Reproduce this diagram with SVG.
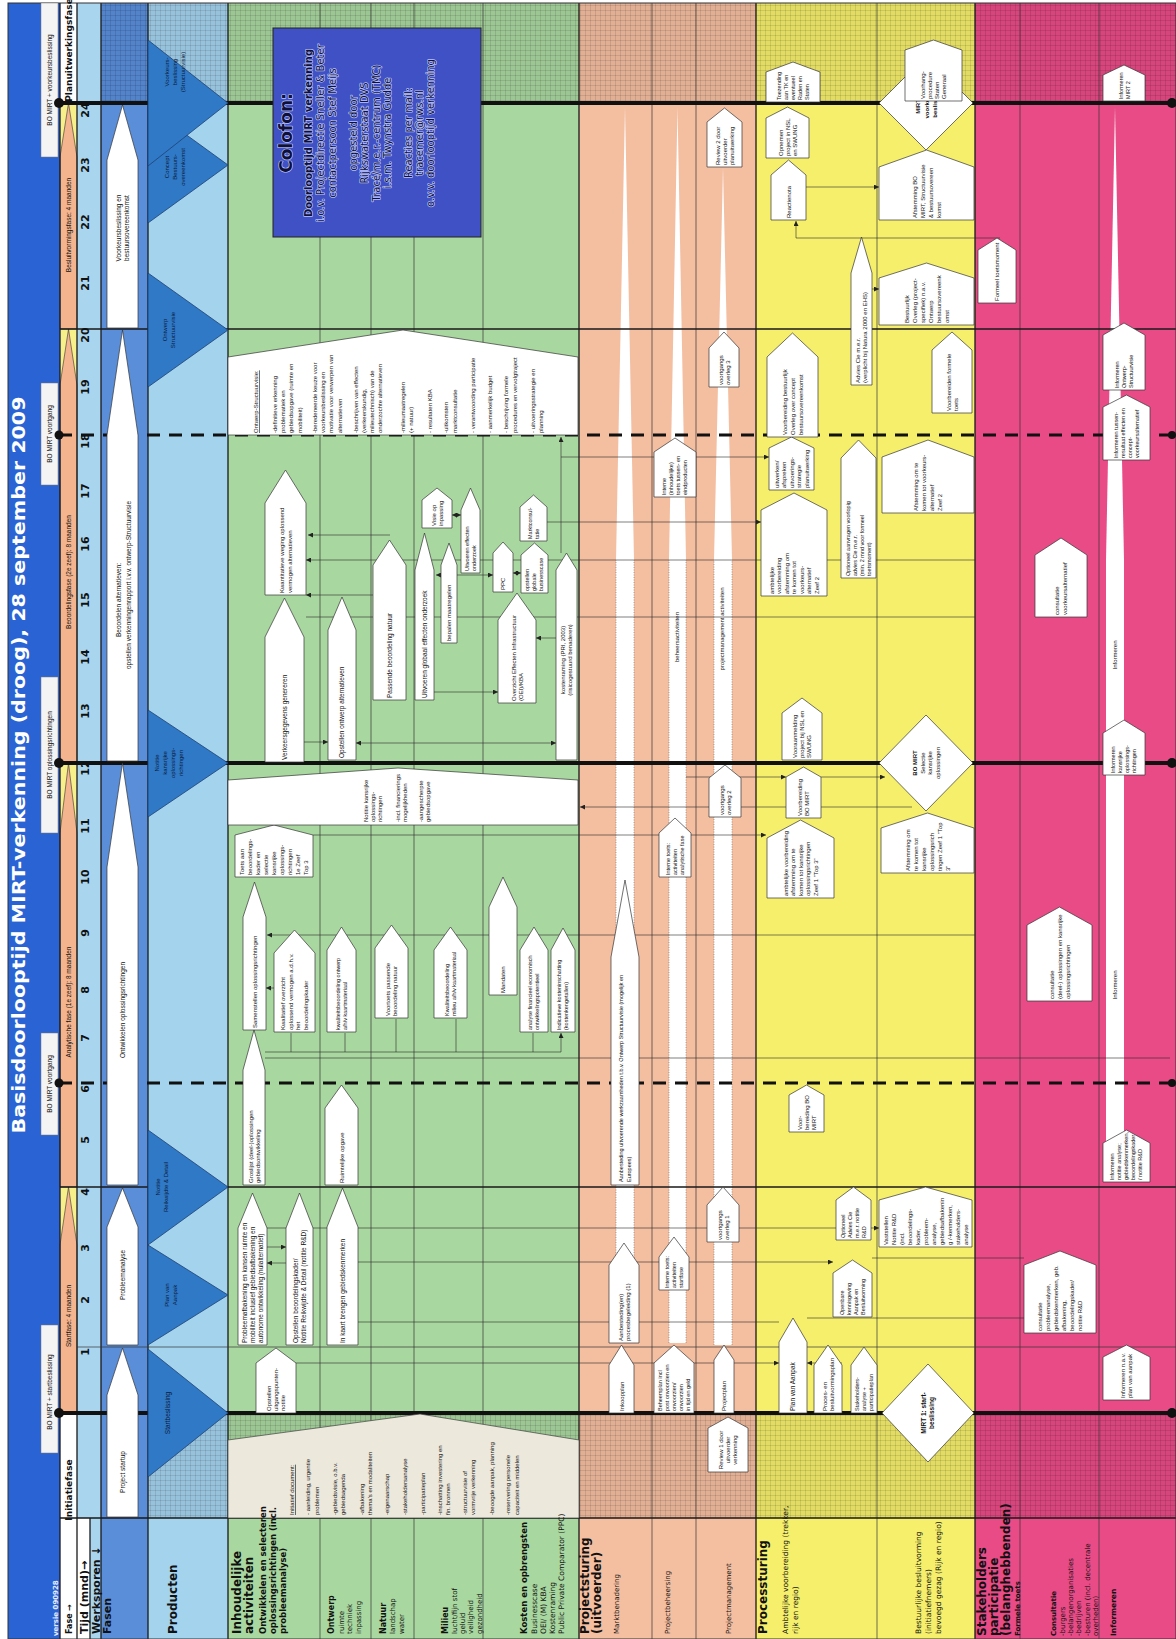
<svg xmlns="http://www.w3.org/2000/svg" width="1176" height="1639" viewBox="0 0 1176 1639">
<defs>
<style>
.t{font-family:"Liberation Sans",Arial,sans-serif;font-size:6px;fill:#111}
.s55{font-size:5.5px}
.s65{font-size:6.5px}
.b{font-weight:bold}
.lbl{font-family:"DejaVu Sans",Verdana,sans-serif;fill:#111}
.n{fill:#fff;stroke:#333;stroke-width:0.7}
.tri{fill:#2f79c6;stroke:#1f4070;stroke-width:0.8}
.c{fill:none;stroke:#2a2a2a;stroke-width:0.6}
.ca{fill:none;stroke:#2a2a2a;stroke-width:0.6;marker-end:url(#ah)}
.cb{fill:none;stroke:#2a2a2a;stroke-width:0.6;marker-end:url(#ah);marker-start:url(#ah)}
.sep{stroke:#1a1a1a;stroke-width:1.3}
.sub{stroke:#333;stroke-width:0.7}
.ms{stroke:#111;stroke-width:4}
.msd{stroke:#111;stroke-width:3;stroke-dasharray:13 9}
.ph{fill:#f3b48e;stroke:#333;stroke-width:0.6}
.dot{stroke:#555;stroke-width:0.5;stroke-dasharray:1 1.5}
.halo{stroke:#b9c3ff;stroke-width:1.4;paint-order:stroke;stroke-linejoin:round}
</style>
<marker id="ah" viewBox="0 0 6 6" refX="6" refY="3" markerWidth="5" markerHeight="5" markerUnits="userSpaceOnUse" orient="auto-start-reverse"><path d="M0,0L6,3L0,6z" fill="#222"/></marker>
<pattern id="hatch" width="5" height="5" patternUnits="userSpaceOnUse"><rect width="5" height="5" fill="#000" fill-opacity="0.08"/><path d="M0,0.5H5M0.5,0V5" stroke="#000" stroke-opacity="0.1" stroke-width="1"/></pattern>
</defs>
<rect width="1176" height="1639" fill="#fff"/>
<g id="lanes">
<rect x="8" y="3" width="52" height="1636" fill="#2a63d4"/>
<rect x="60" y="3" width="17" height="1636" fill="#fff"/>
<rect x="77" y="3" width="24" height="1636" fill="#a9d5ef"/>
<rect x="101" y="3" width="47" height="1636" fill="#5a8ed9"/>
<rect x="148" y="3" width="80" height="1636" fill="#a4d3ee"/>
<rect x="228" y="3" width="351" height="1636" fill="#a9d7a0"/>
<rect x="579" y="3" width="177" height="1636" fill="#f4bea0"/>
<rect x="756" y="3" width="219" height="1636" fill="#f5ef6c"/>
<rect x="975" y="3" width="201" height="1636" fill="#e84b86"/>
<rect x="77" y="1518" width="13" height="121" fill="#fff"/>
<rect x="60" y="1187" width="17" height="58" fill="#f7f08a"/>
<rect x="60" y="763" width="17" height="70" fill="#f7f08a"/>
<rect x="60" y="329" width="17" height="56" fill="#f7f08a"/>
<rect x="60" y="103" width="17" height="54" fill="#f7f08a"/>
<path class="ph" d="M60,1413V1245L68.5,1187L77,1245V1413Z"/>
<path class="ph" d="M60,1187V833L68.5,763L77,833V1187Z"/>
<path class="ph" d="M60,763V385L68.5,329L77,385V763Z"/>
<path class="ph" d="M60,329V157L68.5,103L77,157V329Z"/>
<rect x="101" y="3" width="1075" height="100" fill="url(#hatch)"/>
<rect x="148" y="1413" width="1028" height="105" fill="url(#hatch)"/>
<path d="M616,1343V560L625,107L634,560V1343Z" fill="#fff"/>
<path d="M669,1343V560L677.5,107L686,560V1343Z" fill="#fff"/>
<path d="M714,1345V560L723,167L732,560V1345Z" fill="#fff"/>
<path class="dot" d="M616,1343V560M634,1343V560M669,1343V560M686,1343V560M714,1345V560M732,1345V560"/>
<path d="M1106,1180V560L1115,107L1124,560V1180Z" fill="#fff"/>
</g>
<g id="grid">
<path class="sep" d="M60,3V1639M77,3V1639M101,3V1639M148,3V1639M228,3V1639M579,3V1639M756,3V1639M975,3V1639M90,1518V1639"/>
<path class="sub" d="M320,3V1639M371,3V1639M414,3V1639M483,3V1639M652,3V1639M696,3V1639M877,3V1639M1020,3V1639M1099,3V1639"/>
<path class="sep" d="M60,1518H1176M60,1187H1176M60,329H1176"/>
<path class="sub" d="M77,1347H1176"/>
<rect x="8" y="3" width="1168" height="1636" fill="none" stroke="#333" stroke-width="1"/>
</g>
<g id="title">
<text class="lbl b" font-size="17" style="fill:#fff" text-anchor="middle" transform="translate(25,765) rotate(-90)" textLength="737" lengthAdjust="spacingAndGlyphs">Basisdoorlooptijd MIRT-verkenning (droog), 28 september 2009</text>
<text class="lbl b" font-size="7" style="fill:#e6ecff" transform="translate(58,1636) rotate(-90)">versie 090928</text>
<g fill="#f4f4f4" stroke="#777" stroke-width="0.5">
<rect x="41" y="1325" width="17" height="128"/>
<rect x="41" y="1033" width="17" height="102"/>
<rect x="41" y="677" width="17" height="156"/>
<rect x="41" y="383" width="17" height="102"/>
<rect x="41" y="3" width="17" height="154"/>
</g>
<g class="t s65" text-anchor="middle">
<text transform="translate(52,1392) rotate(-90)">BO MIRT + startbeslissing</text>
<text transform="translate(52,1084) rotate(-90)">BO MIRT voortgang</text>
<text transform="translate(52,755) rotate(-90)">BO MIRT oplossingsrichtingen</text>
<text transform="translate(52,434) rotate(-90)">BO MIRT voortgang</text>
<text transform="translate(52,80) rotate(-90)">BO MIRT + voorkeursbeslissing</text>
</g>
</g>
<g id="phases" class="t s65" text-anchor="middle">
<text class="lbl b" font-size="9" transform="translate(72,1490) rotate(-90)">Initiatiefase</text>
<text transform="translate(71,1316) rotate(-90)">Startfase: 4 maanden</text>
<text transform="translate(71,1002) rotate(-90)">Analytische fase (1e zeef): 8 maanden</text>
<text transform="translate(71,572) rotate(-90)">Beoordelingsfase (2e zeef): 8 maanden</text>
<text transform="translate(71,225) rotate(-90)">Besluitvormingsfase: 4 maanden</text>
<text class="lbl b" font-size="9" transform="translate(72,50) rotate(-90)">Planuitwerkingsfase</text>
</g>
<g id="months" class="lbl b" font-size="11" text-anchor="middle">
<text transform="translate(89,1352) rotate(-90)">1</text>
<text transform="translate(89,1300) rotate(-90)">2</text>
<text transform="translate(89,1248) rotate(-90)">3</text>
<text transform="translate(89,1192) rotate(-90)">4</text>
<text transform="translate(89,1140) rotate(-90)">5</text>
<text transform="translate(89,1089) rotate(-90)">6</text>
<text transform="translate(89,1038) rotate(-90)">7</text>
<text transform="translate(89,990) rotate(-90)">8</text>
<text transform="translate(89,933) rotate(-90)">9</text>
<text transform="translate(89,877) rotate(-90)">10</text>
<text transform="translate(89,826) rotate(-90)">11</text>
<text transform="translate(89,768) rotate(-90)">12</text>
<text transform="translate(89,711) rotate(-90)">13</text>
<text transform="translate(89,657) rotate(-90)">14</text>
<text transform="translate(89,600) rotate(-90)">15</text>
<text transform="translate(89,544) rotate(-90)">16</text>
<text transform="translate(89,491) rotate(-90)">17</text>
<text transform="translate(89,441) rotate(-90)">18</text>
<text transform="translate(89,387) rotate(-90)">19</text>
<text transform="translate(89,335) rotate(-90)">20</text>
<text transform="translate(89,283) rotate(-90)">21</text>
<text transform="translate(89,222) rotate(-90)">22</text>
<text transform="translate(89,165) rotate(-90)">23</text>
<text transform="translate(89,110) rotate(-90)">24</text>
</g>
<g id="connectors">
<path class="ca" d="M267,1247H286"/>
<path class="ca" d="M286,1263H267"/>
<path class="ca" d="M296,1363H779"/>
<path class="c" d="M267,1228H836"/>
<path class="ca" d="M871,1228H879"/>
<path class="ca" d="M358,1262H833"/>
<path class="c" d="M872,1258H1024"/>
<path class="c" d="M358,1322H779"/>
<path class="c" d="M807,1318H1024"/>
<path class="ca" d="M842,1363H807"/>
<path class="c" d="M265,1052H561"/>
<path class="ca" d="M291,1052V1033M345,1052V1033M396,1052V1019M456,1052V1019M533,1052V1033M561,1052V1033"/>
<path class="c" d="M265,1058H1170"/>
<path class="ca" d="M274,988H266"/>
<path class="ca" d="M975,935H267"/>
<path class="ca" d="M313,835H766"/>
<path class="ca" d="M912,807H580"/>
<path class="ca" d="M686,777H786"/>
<path class="ca" d="M821,777H885"/>
<path class="ca" d="M304,742H328"/>
<path class="cb" d="M356,743H556"/>
<path class="c" d="M306,617H975"/>
<path class="ca" d="M975,560H306"/>
<path class="ca" d="M373,595H306"/>
<path class="ca" d="M390,535H308"/>
<path class="ca" d="M434,692H498"/>
<path class="ca" d="M556,638H536"/>
<path class="cb" d="M436,575H493"/>
<path class="cb" d="M513,573H521"/>
<path class="cb" d="M452,515H461"/>
<path class="ca" d="M561,553V437"/>
<path class="ca" d="M561,457H769"/>
<path class="ca" d="M547,522H761"/>
<path class="ca" d="M806,187H879"/>
<path class="ca" d="M872,289H879"/>
<path class="ca" d="M1000,238H796V221"/>
</g>
<g id="milestones">
<path class="ms" d="M59,1413H1172M59,763H1172M59,103H1172"/>
<path class="msd" d="M59,1083H1172M59,435H1172"/>
<g fill="#111">
<circle cx="59" cy="1413" r="5"/><circle cx="1172" cy="1413" r="5"/>
<circle cx="59" cy="1083" r="4.5"/><circle cx="1172" cy="1083" r="4"/>
<circle cx="59" cy="763" r="5"/><circle cx="1172" cy="763" r="5"/>
<circle cx="59" cy="435" r="4.5"/><circle cx="1172" cy="435" r="4"/>
<circle cx="59" cy="103" r="5"/><circle cx="1172" cy="103" r="5"/>
</g>
</g>
<g id="werksporen">
<path class="n" d="M107,1517V1395L122.5,1348L138,1395V1517Z"/>
<path class="n" d="M107,1345V1227L122.5,1188L138,1227V1345Z"/>
<path class="n" d="M107,1185V867L122.5,763L138,867V1185Z"/>
<path class="n" d="M107,761V435L122.5,330L138,435V761Z"/>
<path class="n" d="M107,328V160L122.5,105L138,160V328Z"/>
<g class="t s65" text-anchor="middle">
<text transform="translate(125,1472) rotate(-90)">Project startup</text>
<text transform="translate(125,1275) rotate(-90)">Probleemanalyse</text>
<text transform="translate(125,1010) rotate(-90)">Ontwikkelen oplossingsrichtingen</text>
<text transform="translate(121,600) rotate(-90)">Beoordelen alternatieven:</text>
<text transform="translate(131,585) rotate(-90)">opstellen verkenningenrapport i.v.v. ontwerp-Structuurvisie</text>
<text transform="translate(121,228) rotate(-90)">Voorkeursbeslissing en</text>
<text transform="translate(129,228) rotate(-90)">bestuursovereenkomst</text>
</g>
</g>
<g id="producten">
<path class="tri" d="M148,1349L228,1413L148,1477Z"/>
<path class="tri" d="M148,1245L228,1295L148,1345Z"/>
<path class="tri" d="M148,1130L228,1187L148,1245Z"/>
<path class="tri" d="M148,710L228,763L148,817Z"/>
<path class="tri" d="M148,273L228,330L148,387Z"/>
<path class="tri" d="M148,107L228,165L148,223Z"/>
<path class="tri" d="M148,40L228,103L148,166Z"/>
<g class="t" text-anchor="middle" style="fill:#0c1a3a">
<text class="s65" transform="translate(170,1413) rotate(-90)">Startbeslissing</text>
<text transform="translate(169,1295) rotate(-90)"><tspan x="0" y="0">Plan van</tspan><tspan x="0" dy="8">Aanpak</tspan></text>
<text transform="translate(160,1187) rotate(-90)"><tspan x="0" y="0">Notitie</tspan><tspan x="0" dy="8">Reikwijdte &amp; Detail</tspan></text>
<text transform="translate(159,763) rotate(-90)"><tspan x="0" y="0">Notitie</tspan><tspan x="0" dy="8">kansrijke</tspan><tspan x="0" dy="8">oplossings-</tspan><tspan x="0" dy="8">richtingen</tspan></text>
<text transform="translate(167,330) rotate(-90)"><tspan x="0" y="0">Ontwerp</tspan><tspan x="0" dy="8">Structuurvisie</tspan></text>
<text transform="translate(169,167) rotate(-90)"><tspan x="0" y="0">Concept</tspan><tspan x="0" dy="8">Bestuurs-</tspan><tspan x="0" dy="8">overeenkomst</tspan></text>
<text transform="translate(169,72) rotate(-90)"><tspan x="0" y="0">Voorkeurs-</tspan><tspan x="0" dy="8">beslissing</tspan><tspan x="0" dy="8">(Structuurvisie)</tspan></text>
</g>
</g>
<g id="initiatief-document">
<path d="M228,1518V1440L420,1414L579,1440V1518Z" fill="#ece8dc" stroke="#444" stroke-width="0.7"/>
<text class="t" transform="translate(0,1515) rotate(-90)">
<tspan x="0" y="294" text-decoration="underline">Initiatief document:</tspan>
<tspan x="0" y="310">- aanleiding, urgentie</tspan><tspan x="0" y="319">problemen</tspan>
<tspan x="0" y="337">-gebiedsvisie, o.b.v.</tspan><tspan x="0" y="345">gebiedsagenda</tspan>
<tspan x="0" y="364">-afbakening</tspan><tspan x="0" y="372">thema's en modaliteiten</tspan>
<tspan x="0" y="389">-eigenaarschap</tspan>
<tspan x="0" y="407">-stakeholdersanalyse</tspan>
<tspan x="0" y="425">-participatieplan</tspan>
<tspan x="0" y="442">-inschatting investering en</tspan><tspan x="0" y="450">fin. bronnen</tspan>
<tspan x="0" y="467">-structuurvisie of</tspan><tspan x="0" y="475">vormvrije verkenning</tspan>
<tspan x="0" y="494">-beoogde aanpak, planning</tspan>
<tspan x="0" y="510">-reservering personele</tspan><tspan x="0" y="519">capaciteit en middelen</tspan>
</text>
</g>
<g id="g1"><path class="n" d="M256,1413V1363L276,1348L296,1363V1413Z"/><text class="t" transform="translate(271,1411) rotate(-90)"><tspan x="0" y="0">Opstellen</tspan><tspan x="0" dy="7">uitgangspunten-</tspan><tspan x="0" dy="7">notitie</tspan></text></g>
<g id="g2"><path class="n" d="M238,1345V1228L252.5,1193L267,1228V1345Z"/><text class="t s65" transform="translate(247,1343) rotate(-90)"><tspan x="0" y="0">Probleemafbakening en kansen ruimte en</tspan><tspan x="0" dy="8">mobiliteit inclusief gebiedsafbakening en</tspan><tspan x="0" dy="8">autonome ontwikkeling (nulalternatief)</tspan></text></g>
<g id="g3"><path class="n" d="M286,1345V1228L299.5,1193L313,1228V1345Z"/><text class="t s65" transform="translate(298,1343) rotate(-90)"><tspan x="0" y="0">Opstellen beoordelingskader/</tspan><tspan x="0" dy="8">Notitie Reikwijdte &amp; Detail (notitie R&amp;D)</tspan></text></g>
<g id="g4"><path class="n" d="M327,1345V1227L342.5,1188L358,1227V1345Z"/><text class="t s65" transform="translate(345,1343) rotate(-90)">In kaart brengen gebiedskenmerken</text></g>
<g id="g5"><path class="n" d="M243,1185V1070L254,1030L265,1070V1185Z"/><text class="t" transform="translate(252.6,1183) rotate(-90)"><tspan x="0" y="0">Groslijst (deel-)oplossingen</tspan><tspan x="0" dy="7">gebiedsontwikkeling</tspan></text></g>
<g id="g6"><path class="n" d="M325,1185V1108L341.5,1085L358,1108V1185Z"/><text class="t" transform="translate(343.6,1183) rotate(-90)">Ruimtelijke opgave</text></g>
<g id="g7"><path class="n" d="M243,1030V917L254.5,882L266,917V1030Z"/><text class="t" transform="translate(256.6,1028) rotate(-90)">Samenstellen oplossingsrichtingen</text></g>
<g id="g8"><path class="n" d="M274,1032V953L294.5,930L315,953V1032Z"/><text class="t" transform="translate(285.4,1030) rotate(-90)"><tspan x="0" y="0">Kwalitatief overzicht</tspan><tspan x="0" dy="7.5">oplossend vermogen a.d.h.v.</tspan><tspan x="0" dy="7.5">het</tspan><tspan x="0" dy="7.5">beoordelingskader</tspan></text></g>
<g id="g9"><path class="n" d="M327,1032V950L341.5,927L356,950V1032Z"/><text class="t s55" transform="translate(340,1030) rotate(-90)"><tspan x="0" y="0">kwaliteitsbeoordeling ontwerp</tspan><tspan x="0" dy="7">a/h/v kaartmateriaal</tspan></text></g>
<g id="g10"><path class="n" d="M375,1018V948L391.5,925L408,948V1018Z"/><text class="t" transform="translate(390,1016) rotate(-90)"><tspan x="0" y="0">Voortoets passende</tspan><tspan x="0" dy="7">beoordeling natuur</tspan></text></g>
<g id="g11"><path class="n" d="M434,1018V950L450.5,927L467,950V1018Z"/><text class="t s55" transform="translate(449,1016) rotate(-90)"><tspan x="0" y="0">Kwaliteitsbeoordeling</tspan><tspan x="0" dy="7">milieu a/h/v kaartmateriaal</tspan></text></g>
<g id="g12"><path class="n" d="M489,995V907L503,877L517,907V995Z"/><text class="t" transform="translate(505,993) rotate(-90)">Mandaten</text></g>
<g id="g13"><path class="n" d="M520,1032V950L534,927L548,950V1032Z"/><text class="t s55" transform="translate(532.4,1030) rotate(-90)"><tspan x="0" y="0">analyse financieel economisch</tspan><tspan x="0" dy="7">ontwikkelingspotentieel</tspan></text></g>
<g id="g14"><path class="n" d="M551,1032V950L563,928L575,950V1032Z"/><text class="t s55" transform="translate(561.4,1030) rotate(-90)"><tspan x="0" y="0">Indicatieve kosteninschatting</tspan><tspan x="0" dy="7">(kostenkengetallen)</tspan></text></g>
<g id="g15"><path class="n" d="M235,877V835L274,825L313,835V877Z"/><text class="t" transform="translate(244,875) rotate(-90)"><tspan x="0" y="0">Toets aan</tspan><tspan x="0" dy="8">beoordelings-</tspan><tspan x="0" dy="8">kader en</tspan><tspan x="0" dy="8">selectie</tspan><tspan x="0" dy="8">kansrijke</tspan><tspan x="0" dy="8">oplossings-</tspan><tspan x="0" dy="8">richtingen</tspan><tspan x="0" dy="8">1e Zeef</tspan><tspan x="0" dy="8">Top 3</tspan></text></g>
<g id="g16"><path class="n" d="M228,825V780L398,768L578,780V825Z"/><text class="t" transform="translate(0,822) rotate(-90)"><tspan x="0" y="368">Notitie kansrijke</tspan><tspan x="0" y="375">oplossings-</tspan><tspan x="0" y="382">richtingen</tspan><tspan x="0" y="400">-incl. financierings</tspan><tspan x="0" y="407">mogelijkheden</tspan><tspan x="0" y="423">-aangescherpte</tspan><tspan x="0" y="430">gebiedsopgave</tspan></text></g>
<g id="g17"><path class="n" d="M265,762V637L284.5,598L304,637V762Z"/><text class="t s65" transform="translate(287,760) rotate(-90)">Verkeersgegevens genereren</text></g>
<g id="g18"><path class="n" d="M328,760V630L342,597L356,630V760Z"/><text class="t s65" transform="translate(344,758) rotate(-90)">Opstellen ontwerp alternatieven</text></g>
<g id="g19"><path class="n" d="M373,700V565L389.5,540L406,565V700Z"/><text class="t s65" transform="translate(392,698) rotate(-90)">Passende beoordeling natuur</text></g>
<g id="g20"><path class="n" d="M415,700V570L424.5,533L434,570V700Z"/><text class="t s65" transform="translate(427,698) rotate(-90)">Uitvoeren globaal effecten onderzoek</text></g>
<g id="g21"><path class="n" d="M441,643V565L449,543L457,565V643Z"/><text class="t" transform="translate(451,641) rotate(-90)">bepalen maatregelen</text></g>
<g id="g22"><path class="n" d="M461,573V510L470.5,488L480,510V573Z"/><text class="t s55" transform="translate(469,571) rotate(-90)"><tspan x="0" y="0">Uitvoeren effecten</tspan><tspan x="0" dy="6.5">onderzoek</tspan></text></g>
<g id="g23"><path class="n" d="M422,528V500L437,488L452,500V528Z"/><text class="t" transform="translate(435.6,526) rotate(-90)"><tspan x="0" y="0">Visie op</tspan><tspan x="0" dy="7">inpassing</tspan></text></g>
<g id="g24"><path class="n" d="M493,592V553L503,542L513,553V592Z"/><text class="t" transform="translate(505,590) rotate(-90)">PPC</text></g>
<g id="g25"><path class="n" d="M521,593V555L534.5,543L548,555V593Z"/><text class="t s55" transform="translate(529.4,591) rotate(-90)"><tspan x="0" y="0">opstellen</tspan><tspan x="0" dy="7">globale</tspan><tspan x="0" dy="7">businesscase</tspan></text></g>
<g id="g26"><path class="n" d="M498,703V620L517,593L536,620V703Z"/><text class="t" transform="translate(515.6,701) rotate(-90)"><tspan x="0" y="0">Overzicht Effecten Infrastructuur</tspan><tspan x="0" dy="7">(OEI)/KBA</tspan></text></g>
<g id="g27"><path class="n" d="M556,760V570L566.5,553L577,570V760Z"/><text class="t" text-anchor="middle" transform="translate(565,660) rotate(-90)"><tspan x="0" y="0">kostenraming  (PRI, 2003)</tspan><tspan x="0" dy="7">(risicogestuurd benaderen)</tspan></text></g>
<g id="g28"><path class="n" d="M520,541V507L533.5,495L547,507V541Z"/><text class="t s55" transform="translate(532,539) rotate(-90)"><tspan x="0" y="0">Marktconsul-</tspan><tspan x="0" dy="7">tatie</tspan></text></g>
<g id="g29"><path class="n" d="M265,595V503L285.5,470L306,503V595Z"/><text class="t" transform="translate(283.6,593) rotate(-90)"><tspan x="0" y="0">Kwantitatieve weging oplossend</tspan><tspan x="0" dy="8">vermogen alternatieven</tspan></text></g>
<g id="g30"><path class="n" d="M228,435V357L403,330L578,357V435Z"/><text class="t" transform="translate(0,433) rotate(-90)"><tspan x="0" y="258" text-decoration="underline">Ontwerp-Structuurvisie:</tspan><tspan x="0" y="277">-definitieve erkenning</tspan><tspan x="0" y="285">problematiek en</tspan><tspan x="0" y="293">gebiedsopgave (ruimte en</tspan><tspan x="0" y="302">mobiliteit)</tspan><tspan x="0" y="317">-beredeneerde keuze voor</tspan><tspan x="0" y="325">voorkeursbeslissing en</tspan><tspan x="0" y="333">motivatie voor verwerpen van</tspan><tspan x="0" y="342">alternatieven</tspan><tspan x="0" y="358">-beschrijven van effecten</tspan><tspan x="0" y="366">(verkeerskundig,</tspan><tspan x="0" y="374">milieutechnisch) van de</tspan><tspan x="0" y="382">onderzochte alternatieven</tspan><tspan x="0" y="405">-milieumaatregelen</tspan><tspan x="0" y="413">(+ natuur)</tspan><tspan x="0" y="432">- resultaten KBA</tspan><tspan x="0" y="448">-uitkomsten</tspan><tspan x="0" y="457">marktconsultatie</tspan><tspan x="0" y="475">- verantwoording participatie</tspan><tspan x="0" y="492">- aanmerkelijk budget</tspan><tspan x="0" y="508">- beschrijving formele</tspan><tspan x="0" y="517">procedures en vervolgtraject</tspan><tspan x="0" y="535">- uitvoeringsstrategie en</tspan><tspan x="0" y="543">planning</tspan></text></g>
<g id="colofon"><rect x="273" y="28" width="208" height="209" fill="#3f51c4" stroke="#222" stroke-width="1"/>
<g class="lbl halo" text-anchor="middle" style="fill:#0e1038">
<text class="b" font-size="17" transform="translate(292,133) rotate(-90)">Colofon:</text>
<text font-size="10" transform="translate(0,133) rotate(-90)"><tspan x="0" y="312" font-weight="bold">Doorlooptijd MIRT verkenning</tspan><tspan x="0" y="324">i.o.v. Projectdirectie Sneller &amp; Beter</tspan><tspan x="0" y="336">contactpersoon Stef Meijs</tspan><tspan x="0" y="357">opgesteld door</tspan><tspan x="0" y="368">Rijkswaterstaat DVS</tspan><tspan x="0" y="380">Tracé/m.e.r.-centrum (TMC)</tspan><tspan x="0" y="391">i.s.m. Twynstra Gudde</tspan><tspan x="0" y="412">Reacties per mail:</tspan><tspan x="0" y="423">tracemer@rws.nl</tspan><tspan x="0" y="434">o.v.v. doorlooptijd verkenning</tspan></text>
</g></g>
<g id="o1"><path class="n" d="M609,1413V1365L621.5,1345L634,1365V1413Z"/><text class="t" transform="translate(623.6,1411) rotate(-90)">Inkoopplan</text></g>
<g id="o2"><path class="n" d="M609,1343V1265L624,1243L639,1265V1343Z"/><text class="t" transform="translate(622.6,1341) rotate(-90)"><tspan x="0" y="0">Aanbesteding(en)</tspan><tspan x="0" dy="7">procesbegeleiding   (1)</tspan></text></g>
<g id="o3"><path class="n" d="M611,1185V957L625,880L639,957V1185Z"/><text class="t s55" transform="translate(623,1182) rotate(-90)"><tspan x="0" y="0">Aanbesteding uitvoerende werkzaamheden t.b.v. Ontwerp Structuurvisie (mogelijk en</tspan><tspan x="0" dy="8">Europees)</tspan></text></g>
<g id="o4"><path class="n" d="M654,1413V1363L674,1345L694,1363V1413Z"/><text class="t s55" transform="translate(662,1411) rotate(-90)"><tspan x="0" y="0">Beheersplan incl</tspan><tspan x="0" dy="7">post onvoorzien  en</tspan><tspan x="0" dy="7">onvoorzien/</tspan><tspan x="0" dy="7">onvoorzien</tspan><tspan x="0" dy="7">in tijd en geld</tspan></text></g>
<g id="o5"><path class="n" d="M659,1290V1257L674,1237L689,1257V1290Z"/><text class="t s55" transform="translate(669,1288) rotate(-90)"><tspan x="0" y="0">Interne toets:</tspan><tspan x="0" dy="7">activiteiten</tspan><tspan x="0" dy="7">startfase</tspan></text></g>
<g id="o6"><path class="n" d="M659,877V833L675,818L691,833V877Z"/><text class="t s55" transform="translate(670,875) rotate(-90)"><tspan x="0" y="0">Interne toets:</tspan><tspan x="0" dy="7">activiteiten</tspan><tspan x="0" dy="7">analytische fase</tspan></text></g>
<g id="o7"><path class="n" d="M654,497V452L675,438L696,452V497Z"/><text class="t s55" transform="translate(666.4,495) rotate(-90)"><tspan x="0" y="0">Interne</tspan><tspan x="0" dy="7">(inhoudelijke)</tspan><tspan x="0" dy="7">toets tussen- en</tspan><tspan x="0" dy="7">eindproducten</tspan></text></g>
<g id="o8"><path class="n" d="M714,1413V1360L724,1345L734,1360V1413Z"/><text class="t" transform="translate(726,1411) rotate(-90)">Projectplan</text></g>
<g id="o9"><path class="n" d="M707,1242V1205L723,1187L739,1205V1242Z"/><text class="t" transform="translate(721.6,1240) rotate(-90)"><tspan x="0" y="0">voortgangs</tspan><tspan x="0" dy="7">overleg 1</tspan></text></g>
<g id="o10"><path class="n" d="M709,817V778L725,765L741,778V817Z"/><text class="t" transform="translate(723.6,815) rotate(-90)"><tspan x="0" y="0">voortgangs</tspan><tspan x="0" dy="7">overleg 2</tspan></text></g>
<g id="o11"><path class="n" d="M709,387V348L724,332L739,348V387Z"/><text class="t" transform="translate(722.6,385) rotate(-90)"><tspan x="0" y="0">voortgangs</tspan><tspan x="0" dy="7">overleg 3</tspan></text></g>
<g id="o12"><path class="n" d="M707,167V122L724.5,108L742,122V167Z"/><text class="t" transform="translate(719.6,165) rotate(-90)"><tspan x="0" y="0">Review 2  door</tspan><tspan x="0" dy="7">uitvoerder</tspan><tspan x="0" dy="7">planuitwerking</tspan></text></g>
<g id="o13"><path class="n" d="M708,1472V1428L728,1417L748,1428V1472Z"/><text class="t" text-anchor="middle" transform="translate(723.1,1450) rotate(-90)"><tspan x="0" y="0">Review 1  door</tspan><tspan x="0" dy="7">uitvoerder</tspan><tspan x="0" dy="7">verkenning</tspan></text></g>
<g class="t" text-anchor="middle"><text transform="translate(679,637) rotate(-90)">beheersactiviteiten</text><text transform="translate(724,629) rotate(-90)">projectmanagement activiteiten</text></g>
<g id="y1"><path class="n" d="M779,1413V1342L793,1318L807,1342V1413Z"/><text class="t s65" transform="translate(795.3,1411) rotate(-90)">Plan van Aanpak</text></g>
<g id="y2"><path class="n" d="M814,1413V1365L828,1345L842,1365V1413Z"/><text class="t" transform="translate(826.6,1411) rotate(-90)"><tspan x="0" y="0">Proces- en</tspan><tspan x="0" dy="7">besluitvormingsplan</tspan></text></g>
<g id="y3"><path class="n" d="M851,1413V1365L864,1347L877,1365V1413Z"/><text class="t s55" transform="translate(859,1411) rotate(-90)"><tspan x="0" y="0">Stakeholders-</tspan><tspan x="0" dy="7">analyse +</tspan><tspan x="0" dy="7">participatieplan</tspan></text></g>
<g id="y4"><path class="n" d="M833,1317V1273L852.5,1260L872,1273V1317Z"/><text class="t s55" transform="translate(844,1315) rotate(-90)"><tspan x="0" y="0">Openbare</tspan><tspan x="0" dy="7">kennisgeving</tspan><tspan x="0" dy="7">Aanpak en</tspan><tspan x="0" dy="7">Besluitvorming</tspan></text></g>
<g id="y5"><path class="n" d="M836,1240V1200L853.5,1187L871,1200V1240Z"/><text class="t s55" transform="translate(845,1238) rotate(-90)"><tspan x="0" y="0">Optioneel</tspan><tspan x="0" dy="7">Advies Cie</tspan><tspan x="0" dy="7">m.e.r. notitie</tspan><tspan x="0" dy="7">R&amp;D</tspan></text></g>
<g id="y6"><path class="n" d="M789,1132V1095L806.5,1085L824,1095V1132Z"/><text class="t" transform="translate(801.6,1130) rotate(-90)"><tspan x="0" y="0">Voor-</tspan><tspan x="0" dy="7">bereiding BO</tspan><tspan x="0" dy="7">MIRT</tspan></text></g>
<g id="y7"><path class="n" d="M767,898V838L800.5,820L834,838V898Z"/><text class="t" transform="translate(787.6,896) rotate(-90)"><tspan x="0" y="0">ambtelijke voorbereiding</tspan><tspan x="0" dy="7.5">afstemming om  te</tspan><tspan x="0" dy="7.5">komen tot kansrijke</tspan><tspan x="0" dy="7.5">oplossingsrichtingen</tspan><tspan x="0" dy="7.5">Zeef 1 "Top 3"</tspan></text></g>
<g id="y8"><path class="n" d="M786,818V777L803.5,767L821,777V818Z"/><text class="t" transform="translate(802,816) rotate(-90)"><tspan x="0" y="0">Voorbereiding</tspan><tspan x="0" dy="7">BO MIRT</tspan></text></g>
<g id="y9"><path class="n" d="M782,760V713L802,698L822,713V760Z"/><text class="t" transform="translate(797,758) rotate(-90)"><tspan x="0" y="0">Vooraanmelding</tspan><tspan x="0" dy="7">project bij NSL en</tspan><tspan x="0" dy="7">SWUNG</tspan></text></g>
<g id="y10"><path class="n" d="M761,596V510L794,493L827,510V596Z"/><text class="t" transform="translate(773.6,594) rotate(-90)"><tspan x="0" y="0">ambtelijke</tspan><tspan x="0" dy="7.5">voorbereiding</tspan><tspan x="0" dy="7.5">afstemming om</tspan><tspan x="0" dy="7.5">te komen tot</tspan><tspan x="0" dy="7.5">voorkeurs-</tspan><tspan x="0" dy="7.5">alternatief</tspan><tspan x="0" dy="7.5">Zeef 2</tspan></text></g>
<g id="y11"><path class="n" d="M841,578V458L858.5,440L876,458V578Z"/><text class="t s55" transform="translate(850,576) rotate(-90)"><tspan x="0" y="0">Optioneel aanvragen voorlopig</tspan><tspan x="0" dy="7">advies Cie m.e.r.</tspan><tspan x="0" dy="7">(min. 2 mnd voor formeel</tspan><tspan x="0" dy="7">toetsmoment)</tspan></text></g>
<g id="y12"><path class="n" d="M769,490V448L791.5,437L814,448V490Z"/><text class="t" transform="translate(778.6,488) rotate(-90)"><tspan x="0" y="0">uitwerken/</tspan><tspan x="0" dy="7.5">afspreken</tspan><tspan x="0" dy="7.5">uitvoerings-</tspan><tspan x="0" dy="7.5">strategie</tspan><tspan x="0" dy="7.5">planuitwerking</tspan></text></g>
<g id="y13"><path class="n" d="M767,437V357L792.5,333L818,357V437Z"/><text class="t" transform="translate(786.6,435) rotate(-90)"><tspan x="0" y="0">Voorbereiding bestuurlijk</tspan><tspan x="0" dy="8">Overleg over concept</tspan><tspan x="0" dy="8">bestuursovereenkomst</tspan></text></g>
<g id="y14"><path class="n" d="M851,385V273L861.5,237L872,273V385Z"/><text class="t" transform="translate(860,383) rotate(-90)"><tspan x="0" y="0">Advies Cie m.e.r.</tspan><tspan x="0" dy="7">(verplicht bij Natura 2000 en EHS)</tspan></text></g>
<g id="y15"><path class="n" d="M771,220V175L788.5,160L806,175V220Z"/><text class="t" transform="translate(790.6,218) rotate(-90)">Reactienota</text></g>
<g id="y16"><path class="n" d="M766,158V118L787.5,107L809,118V158Z"/><text class="t" transform="translate(782.6,156) rotate(-90)"><tspan x="0" y="0">Opnemen</tspan><tspan x="0" dy="7">project in NSL</tspan><tspan x="0" dy="7">en SWUNG</tspan></text></g>
<g id="y17"><path class="n" d="M766,102V72L793,62L820,72V102Z"/><text class="t s55" transform="translate(781,100) rotate(-90)"><tspan x="0" y="0">Toezending</tspan><tspan x="0" dy="7">aan TK en</tspan><tspan x="0" dy="7">eventueel</tspan><tspan x="0" dy="7">Raden en</tspan><tspan x="0" dy="7">Staten</tspan></text></g>
<g id="y18"><path class="n" d="M882,1413L928,1364L974,1413L928,1462Z"/><text class="t s65 b" text-anchor="middle" transform="translate(926.3,1413) rotate(-90)"><tspan x="0" y="0">MIRT 1: start-</tspan><tspan x="0" dy="8">beslissing</tspan></text></g>
<g id="y19"><path class="n" d="M879,1247V1200L925.5,1187L972,1200V1247Z"/><text class="t" transform="translate(887.6,1245) rotate(-90)"><tspan x="0" y="0">Vaststellen</tspan><tspan x="0" dy="8">Notitie R&amp;D</tspan><tspan x="0" dy="8">(incl.</tspan><tspan x="0" dy="8">beoordelings-</tspan><tspan x="0" dy="8">kader,</tspan><tspan x="0" dy="8">probleem-</tspan><tspan x="0" dy="8">analyse,</tspan><tspan x="0" dy="8">gebiedsafbakenin</tspan><tspan x="0" dy="8">g /-kenmerken,</tspan><tspan x="0" dy="8">stakeholders-</tspan><tspan x="0" dy="8">analyse</tspan></text></g>
<g id="y20"><path class="n" d="M879,763L926,715L973,763L926,811Z"/><text class="t" text-anchor="middle" transform="translate(917,763) rotate(-90)"><tspan x="0" y="0" font-weight="bold">BO MIRT</tspan><tspan x="0" dy="7.5">Selectie</tspan><tspan x="0" dy="7.5">kansrijke</tspan><tspan x="0" dy="7.5">oplossingen</tspan></text></g>
<g id="y21"><path class="n" d="M881,873V828L927.5,813L974,828V873Z"/><text class="t" transform="translate(909.6,871) rotate(-90)"><tspan x="0" y="0">Afstemming om</tspan><tspan x="0" dy="8">te komen tot</tspan><tspan x="0" dy="8">kansrijke</tspan><tspan x="0" dy="8">oplossingsrich</tspan><tspan x="0" dy="8">tingen Zeef 1 "Top</tspan><tspan x="0" dy="8">3"</tspan></text></g>
<g id="y22"><path class="n" d="M882,513V457L928,440L974,457V513Z"/><text class="t" transform="translate(918,511) rotate(-90)"><tspan x="0" y="0">Afstemming om te</tspan><tspan x="0" dy="8">komen tot voorkeurs-</tspan><tspan x="0" dy="8">alternatief</tspan><tspan x="0" dy="8">Zeef 2</tspan></text></g>
<g id="y23"><path class="n" d="M932,413V350L952,332L972,350V413Z"/><text class="t" transform="translate(950.6,411) rotate(-90)"><tspan x="0" y="0">Voorbereiden formele</tspan><tspan x="0" dy="7">toets</tspan></text></g>
<g id="y24"><path class="n" d="M879,325V278L926.5,263L974,278V325Z"/><text class="t" transform="translate(908.6,323) rotate(-90)"><tspan x="0" y="0">Bestuurlijk</tspan><tspan x="0" dy="8">Overleg (project-</tspan><tspan x="0" dy="8">specifiek) n.a.v.</tspan><tspan x="0" dy="8">Ontwerp</tspan><tspan x="0" dy="8">bestuursovereenk</tspan><tspan x="0" dy="8">omst</tspan></text></g>
<g id="y25"><path class="n" d="M879,220V167L926.5,150L974,167V220Z"/><text class="t" transform="translate(916.6,218) rotate(-90)"><tspan x="0" y="0">Afstemming BO</tspan><tspan x="0" dy="8">MIRT, Structuurvisie</tspan><tspan x="0" dy="8">&amp; bestuursovereen</tspan><tspan x="0" dy="8">komst</tspan></text></g>
<g id="y26"><path class="n" d="M879,103L926,56L973,103L926,150Z"/><text class="t b" font-size="7" text-anchor="middle" transform="translate(920,103) rotate(-90)"><tspan x="0" y="0">MIRT 2:</tspan><tspan x="0" dy="8.5">voorkeurs-</tspan><tspan x="0" dy="8.5">beslissing</tspan></text></g>
<g id="y27"><path class="n" d="M905,101V50L933.5,40L962,50V101Z"/><text class="t" transform="translate(925,99) rotate(-90)"><tspan x="0" y="0">Voorhang-</tspan><tspan x="0" dy="7">procedure</tspan><tspan x="0" dy="7">Staten</tspan><tspan x="0" dy="7">Generaal</tspan></text></g>
<g id="p1"><path class="n" d="M978,303V250L997,238L1016,250V303Z"/><text class="t" transform="translate(999,301) rotate(-90)">Formeel toetsmoment</text></g>
<g id="p2"><path class="n" d="M1024,1333V1265L1060,1251L1096,1265V1333Z"/><text class="t" transform="translate(1042,1331) rotate(-90)"><tspan x="0" y="0">consultatie</tspan><tspan x="0" dy="8">probleemanalyse,</tspan><tspan x="0" dy="8">gebiedskenmerken, geb.</tspan><tspan x="0" dy="8">afbakening,</tspan><tspan x="0" dy="8">beoordelingskader/</tspan><tspan x="0" dy="8">notitie R&amp;D</tspan></text></g>
<g id="p3"><path class="n" d="M1103,1400V1357L1126.5,1345L1150,1357V1400Z"/><text class="t" transform="translate(1125,1398) rotate(-90)"><tspan x="0" y="0">Informeren n.a.v.</tspan><tspan x="0" dy="7">plan van aanpak</tspan></text></g>
<g id="p4"><path class="n" d="M1103,1182V1143L1126.5,1130L1150,1143V1182Z"/><text class="t s55" transform="translate(1114.4,1180) rotate(-90)"><tspan x="0" y="0">Informeren</tspan><tspan x="0" dy="7">notitie analyse;</tspan><tspan x="0" dy="7">gebiedskenmerken,</tspan><tspan x="0" dy="7">beoordelingskader</tspan><tspan x="0" dy="7">/ notitie R&amp;D</tspan></text></g>
<g id="p5"><path class="n" d="M1027,1001V925L1059.5,907L1092,925V1001Z"/><text class="t" transform="translate(1053.6,999) rotate(-90)"><tspan x="0" y="0">consultatie</tspan><tspan x="0" dy="8">(deel-) oplossingen en kansrijke</tspan><tspan x="0" dy="8">oplossingsrichtingen</tspan></text></g>
<g id="p7"><path class="n" d="M1103,775V733L1124,720L1145,733V775Z"/><text class="t s55" transform="translate(1115.4,773) rotate(-90)"><tspan x="0" y="0">Informeren</tspan><tspan x="0" dy="7">kansrijke</tspan><tspan x="0" dy="7">oplossings-</tspan><tspan x="0" dy="7">richtingen</tspan></text></g>
<g id="p8"><path class="n" d="M1035,617V555L1061,538L1087,555V617Z"/><text class="t" transform="translate(1059,615) rotate(-90)"><tspan x="0" y="0">consultatie</tspan><tspan x="0" dy="8">voorkeursalternatief</tspan></text></g>
<g id="p10"><path class="n" d="M1103,460V407L1126.5,395L1150,407V460Z"/><text class="t s55" transform="translate(1117.9,458) rotate(-90)"><tspan x="0" y="0">Informeren tussen-</tspan><tspan x="0" dy="7">resultaat effecten en</tspan><tspan x="0" dy="7">concept-</tspan><tspan x="0" dy="7">voorkeursalternatief</tspan></text></g>
<g id="p11"><path class="n" d="M1103,390V335L1124,323L1145,335V390Z"/><text class="t s55" transform="translate(1118.9,388) rotate(-90)"><tspan x="0" y="0">Informeren</tspan><tspan x="0" dy="7">Ontwerp-</tspan><tspan x="0" dy="7">Structuurvisie</tspan></text></g>
<g id="p12"><path class="n" d="M1103,101V75L1124,65L1145,75V101Z"/><text class="t s55" transform="translate(1122.5,99) rotate(-90)"><tspan x="0" y="0">Informeren</tspan><tspan x="0" dy="7">MIRT 2</tspan></text></g>
<g class="t" text-anchor="middle"><text transform="translate(1117,985) rotate(-90)">Informeren</text><text transform="translate(1117,655) rotate(-90)">Informeren</text></g>
<g id="row-labels" class="lbl">
<text class="b" font-size="8" transform="translate(72,1634) rotate(-90)">Fase →</text>
<text class="b" font-size="11" transform="translate(88,1634) rotate(-90)">Tijd (mnd)→</text>
<text class="b" font-size="11" transform="translate(100,1634) rotate(-90)">Werksporen ↓</text>
<text class="b" font-size="11" transform="translate(111,1634) rotate(-90)">Fasen</text>
<text class="b" font-size="12" transform="translate(177,1634) rotate(-90)">Producten</text>
<text class="b" font-size="12" transform="translate(0,1634) rotate(-90)"><tspan x="0" y="241">Inhoudelijke</tspan><tspan x="0" y="253">activiteiten</tspan></text>
<text class="b" font-size="8.5" transform="translate(0,1634) rotate(-90)"><tspan x="0" y="266">Ontwikkelen en selecteren</tspan><tspan x="0" y="276">oplossingsrichtingen (incl.</tspan><tspan x="0" y="286">probleemanalyse)</tspan></text>
<text font-size="7" transform="translate(0,1634) rotate(-90)"><tspan x="0" y="334" font-weight="bold" font-size="8">Ontwerp</tspan><tspan x="0" y="344">ruimte</tspan><tspan x="0" y="352">techniek</tspan><tspan x="0" y="361">inpassing</tspan></text>
<text font-size="7" transform="translate(0,1634) rotate(-90)"><tspan x="0" y="386" font-weight="bold" font-size="8">Natuur</tspan><tspan x="0" y="395">landschap</tspan><tspan x="0" y="404">water</tspan></text>
<text font-size="7" transform="translate(0,1634) rotate(-90)"><tspan x="0" y="448" font-weight="bold" font-size="8">Milieu</tspan><tspan x="0" y="457">lucht/fijn stof</tspan><tspan x="0" y="465">geluid</tspan><tspan x="0" y="473">veiligheid</tspan><tspan x="0" y="482">gezondheid</tspan></text>
<text font-size="7.5" transform="translate(0,1634) rotate(-90)"><tspan x="0" y="527" font-weight="bold" font-size="8.5">Kosten en opbrengsten</tspan><tspan x="0" y="537">Businesscase</tspan><tspan x="0" y="546">OEI/ (M) KBA</tspan><tspan x="0" y="555">Kostenraming</tspan><tspan x="0" y="564">Public Private Comparator (PPC)</tspan></text>
<text class="b" font-size="12" transform="translate(0,1634) rotate(-90)"><tspan x="0" y="589">Projectsturing</tspan><tspan x="0" y="601">(uitvoerder)</tspan></text>
<text font-size="7" transform="translate(619,1634) rotate(-90)">Marktbenadering</text>
<text font-size="7" transform="translate(670,1634) rotate(-90)">Projectbeheersing</text>
<text font-size="7" transform="translate(731,1634) rotate(-90)">Projectmanagement</text>
<text class="b" font-size="12" transform="translate(767,1634) rotate(-90)">Processturing</text>
<text font-size="7.5" transform="translate(0,1634) rotate(-90)"><tspan x="0" y="788">Ambtelijke voorbereiding (trekker,</tspan><tspan x="0" y="798">rijk en regio)</tspan></text>
<text font-size="7.5" transform="translate(0,1634) rotate(-90)"><tspan x="0" y="921">Bestuurlijke besluitvorming</tspan><tspan x="0" y="931">(initiatiefnemers)</tspan><tspan x="0" y="941">bevoegd gezag (Rijk en regio)</tspan></text>
<text class="b" font-size="12" transform="translate(0,1636) rotate(-90)"><tspan x="0" y="986">Stakeholders</tspan><tspan x="0" y="998">participatie</tspan><tspan x="0" y="1010">(belanghebbenden)</tspan></text>
<text class="b" font-size="7" transform="translate(1020,1636) rotate(-90)">Formele toets</text>
<text font-size="7" transform="translate(0,1636) rotate(-90)"><tspan x="0" y="1056" font-weight="bold">Consultatie</tspan><tspan x="0" y="1065">-burgers</tspan><tspan x="0" y="1073">-belangenorganisaties</tspan><tspan x="0" y="1081">-bedrijven</tspan><tspan x="0" y="1090">-besturen (incl. decentrale</tspan><tspan x="0" y="1098">overheden)</tspan></text>
<text class="b" font-size="7.5" transform="translate(1116,1636) rotate(-90)">Informeren</text>
</g>
</svg>
